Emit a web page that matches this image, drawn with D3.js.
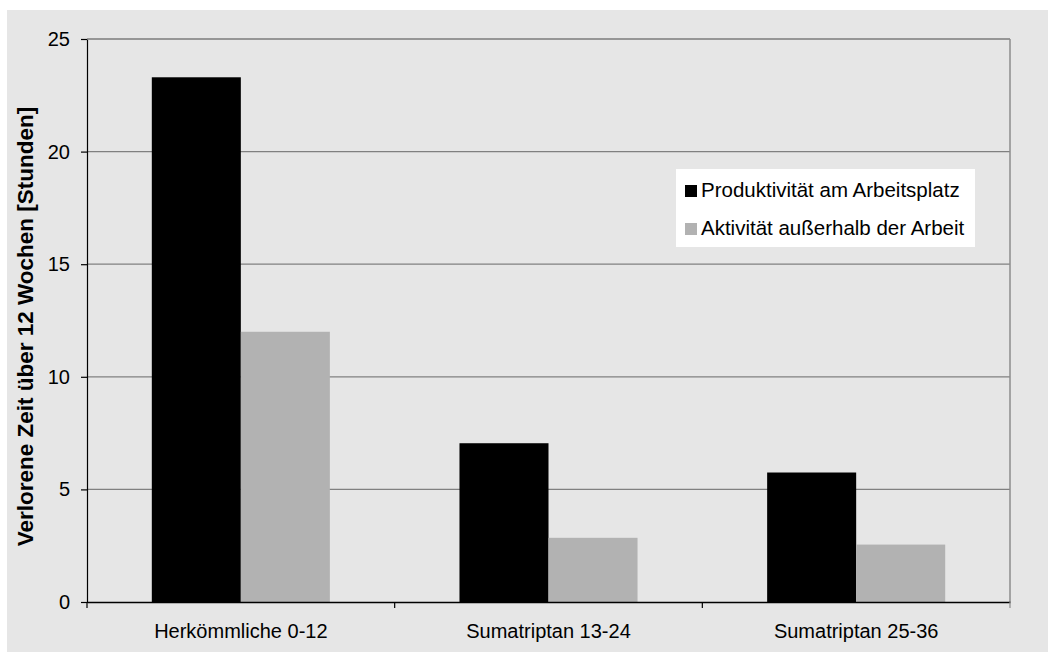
<!DOCTYPE html>
<html>
<head>
<meta charset="utf-8">
<script src="https://cdn.jsdelivr.net/npm/d3@7/dist/d3.min.js"></script>
<style>
  html, body { margin: 0; padding: 0; background: #ffffff; }
  svg { display: block; font-family: "Liberation Sans", Arial, sans-serif; }
</style>
</head>
<body>
<svg id="chart" width="1048" height="652"></svg>
<script>
// Lost time over 12 weeks, by treatment group
const categories = ["Herkömmliche 0-12", "Sumatriptan 13-24", "Sumatriptan 25-36"];
const seriesNames = ["Produktivität am Arbeitsplatz", "Aktivität außerhalb der Arbeit"];
const produktivitaet = [23.3, 7.05, 5.75];
const aktivitaet = [12.0, 2.85, 2.55];
const yTicks = [0, 5, 10, 15, 20, 25];
const yTitle = "Verlorene Zeit über 12 Wochen [Stunden]";

const seriesValues = [produktivitaet, aktivitaet];
const colors = ["#000000", "#b2b2b2"];

const svg = d3.select("#chart");
const W = 1048, H = 652;
const margin = { left: 87, right: 1010, top: 39, bottom: 602 };

// chart background panel
svg.append("rect")
  .attr("x", 7).attr("y", 10)
  .attr("width", W - 7).attr("height", H - 10)
  .attr("fill", "#e6e6e6");

const x = d3.scaleBand()
  .domain(categories)
  .range([margin.left, margin.right])
  .paddingInner(0).paddingOuter(0);

const xInner = d3.scaleBand()
  .domain(d3.range(seriesNames.length))
  .range([0, x.bandwidth()])
  .paddingInner(0)
  .paddingOuter(0.728);

const y = d3.scaleLinear()
  .domain([0, 25])
  .range([margin.bottom, margin.top]);

// horizontal gridlines
svg.append("g")
  .selectAll("line")
  .data(yTicks.filter(t => t > 0))
  .join("line")
  .attr("x1", margin.left).attr("x2", margin.right)
  .attr("y1", d => y(d)).attr("y2", d => y(d))
  .attr("stroke", "#808080")
  .attr("stroke-width", 1.2);

// right border of plot area
svg.append("line")
  .attr("x1", margin.right).attr("x2", margin.right)
  .attr("y1", margin.top).attr("y2", margin.bottom)
  .attr("stroke", "#8c8c8c")
  .attr("stroke-width", 1.5);

// bars
const groups = svg.append("g")
  .selectAll("g")
  .data(categories)
  .join("g")
  .attr("transform", d => `translate(${x(d)},0)`);

groups.selectAll("rect")
  .data((d, i) => seriesValues.map((s, k) => ({ k, v: s[i] })))
  .join("rect")
  .attr("x", d => xInner(d.k))
  .attr("width", xInner.bandwidth())
  .attr("y", d => y(d.v))
  .attr("height", d => y(0) - y(d.v))
  .attr("fill", d => colors[d.k]);

// y axis
const yAxis = svg.append("g")
  .attr("transform", `translate(${margin.left},0)`)
  .call(d3.axisLeft(y).tickValues(yTicks).tickSize(6).tickPadding(11).tickFormat(d3.format("d")));
yAxis.select(".domain").attr("stroke", "#000").attr("stroke-width", 1.2);
yAxis.selectAll(".tick line").attr("stroke", "#000").attr("stroke-width", 1.2);
yAxis.selectAll(".tick text")
  .attr("font-size", 20)
  .attr("fill", "#000")
  .attr("font-family", "Liberation Sans, Arial, sans-serif");

// x axis
const xAxis = svg.append("g")
  .attr("transform", `translate(0,${margin.bottom})`)
  .call(d3.axisBottom(x).tickSize(0).tickPadding(22));
xAxis.select(".domain").attr("stroke", "#000").attr("stroke-width", 1.5);
xAxis.selectAll(".tick text")
  .attr("font-size", 20)
  .attr("fill", "#000")
  .attr("font-family", "Liberation Sans, Arial, sans-serif");

// category boundary ticks
svg.append("g")
  .selectAll("line")
  .data(d3.range(categories.length + 1))
  .join("line")
  .attr("x1", i => margin.left + i * x.step())
  .attr("x2", i => margin.left + i * x.step())
  .attr("y1", margin.bottom)
  .attr("y2", margin.bottom + 6)
  .attr("stroke", i => i === categories.length ? "#8c8c8c" : "#000")
  .attr("stroke-width", 1.2);

// top border of plot area
svg.append("line")
  .attr("x1", margin.left).attr("x2", margin.right)
  .attr("y1", margin.top).attr("y2", margin.top)
  .attr("stroke", "#8c8c8c")
  .attr("stroke-width", 1.5);

// y axis title
svg.append("text")
  .attr("transform", `translate(33,${(margin.top + margin.bottom) / 2 + 6}) rotate(-90)`)
  .attr("text-anchor", "middle")
  .attr("font-size", 22.5)
  .attr("font-weight", "bold")
  .attr("fill", "#000")
  .text(yTitle);

// legend
const legend = svg.append("g");
legend.append("rect")
  .attr("x", 676).attr("y", 169)
  .attr("width", 299).attr("height", 78)
  .attr("fill", "#ffffff");
const items = legend.selectAll("g.item")
  .data(seriesNames)
  .join("g")
  .attr("class", "item")
  .attr("transform", (d, i) => `translate(685,${185 + i * 38})`);
items.append("rect")
  .attr("width", 12).attr("height", 12)
  .attr("fill", (d, i) => colors[i]);
items.append("text")
  .attr("x", 16).attr("y", 12)
  .attr("font-size", 20.5)
  .attr("fill", "#000")
  .text(d => d);
</script>
</body>
</html>
